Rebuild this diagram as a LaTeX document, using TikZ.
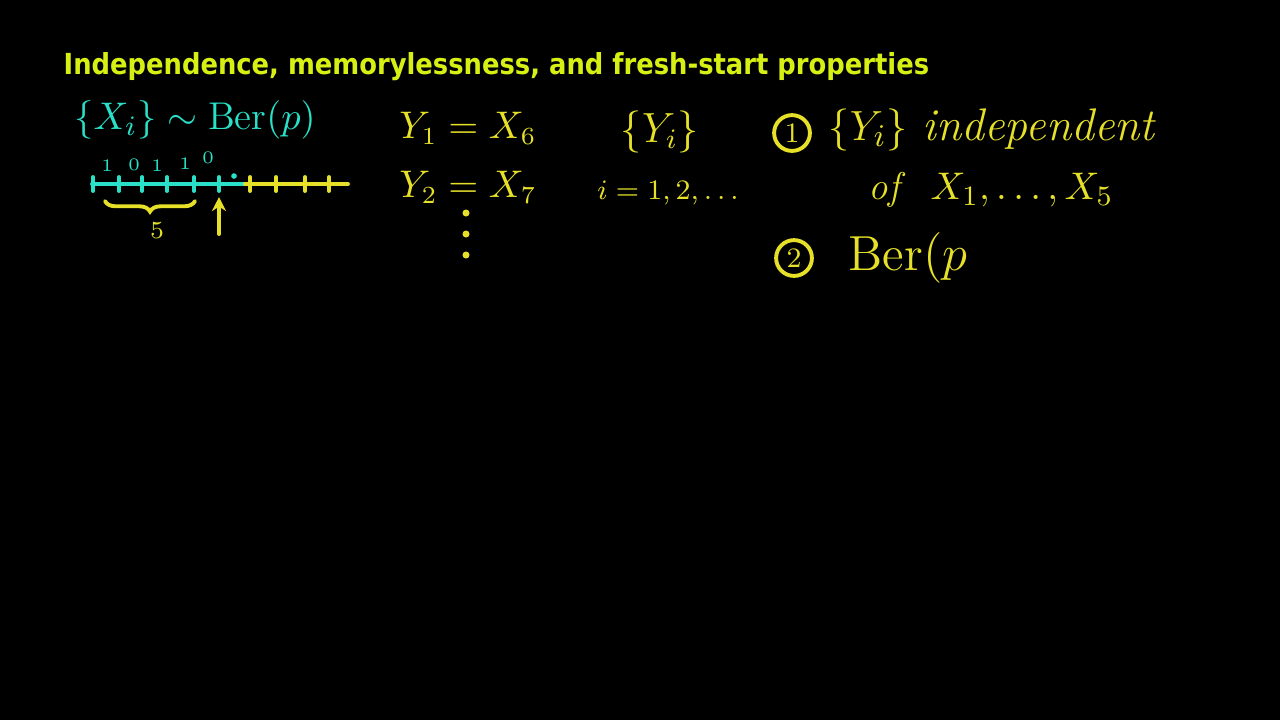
\documentclass[tikz,border=0pt]{standalone}
\usepackage{fontspec}
\setsansfont{DejaVu Sans}
\usetikzlibrary{arrows.meta,decorations.pathreplacing}
\definecolor{ttl}{RGB}{215,240,20}
\definecolor{cy}{RGB}{40,225,200}
\definecolor{ye}{RGB}{230,225,40}
\newcommand{\fsz}[1]{\fontsize{#1}{#1}\selectfont}
\begin{document}
\begin{tikzpicture}[x=0.01cm,y=-0.01cm,
  hw/.style={inner sep=0pt},
  cyt/.style={hw,text=cy},
  yet/.style={hw,text=ye},
  small/.style={font=\fsz{5}, inner sep=0pt, text=cy},
  cyl/.style={draw=cy,line width=1.1pt,line cap=round},
  yel/.style={draw=ye,line width=1.1pt,line cap=round},
  circnum/.style={draw=ye,line width=1.1pt,circle,inner sep=1.2pt,text=ye,font=\fsz{8}}]
\fill[black] (0,0) rectangle (1280,720);
\useasboundingbox (0,0) rectangle (1280,720);
\node[anchor=base west, inner sep=0pt, text=ttl] (title) at (63,74)
  {\resizebox{8.65cm}{0.22cm}{\sffamily\bfseries Independence, memorylessness, and fresh-start properties}};
% left block
\node[cyt, font=\fsz{11}] (xber) at (195,120) {$\{X_i\}\sim\mathrm{Ber}(p)$};
\coordinate (l0) at (92,184);
\coordinate (lm) at (245,184);
\coordinate (l1) at (348,184);
\draw[cyl] (l0) -- (lm);
\draw[yel] (lm) -- (l1);
\foreach \x in {93,119,142,167,194,219} \draw[cyl] (\x,177) -- (\x,191);
\foreach \x in {250,276,305,329} \draw[yel] (\x,177) -- (\x,191);
\fill[cy] (234,176) circle (0.8pt);
\node[small] (d1) at (107,166) {1};
\node[small] (d2) at (134,165) {0};
\node[small] (d3) at (157,166) {1};
\node[small] (d4) at (185,164) {1};
\node[small] (d5) at (208,158) {0};
\coordinate (b0) at (105,201);
\coordinate (b1) at (195,201);
\draw[yel, decorate, decoration={brace,mirror,amplitude=3pt}] (b0) -- (b1);
\node[yet, font=\fsz{7}] (five) at (157,231) {5};
\coordinate (arA) at (219,234);
\coordinate (arB) at (219,197);
\draw[yel, -{Stealth[length=4pt,width=4pt]}] (arA) -- (arB);
% middle block
\node[yet, font=\fsz{10.5}] (y1) at (468,128) {$Y_1 = X_6$};
\node[yet, font=\fsz{10.5}] (y2) at (468,187) {$Y_2 = X_7$};
\foreach \yy in {213,234,255} \fill[ye] (466,\yy) circle (1pt);
\node[yet, font=\fsz{12}] (yi) at (660,132) {$\{Y_i\}$};
\node[yet, font=\fsz{8}] (irange) at (668,193) {$i=1,2,\ldots$};
% right block
\node[circnum] (c1) at (792,133) {1};
\node[yet, anchor=west, font=\fsz{13}] (indep) at (828,130) {$\{Y_i\}$\ \textit{independent}};
\node[yet, anchor=west, font=\fsz{11}] (ofx) at (868,190) {\textit{of}\ \ $X_1,\ldots,X_5$};
\node[circnum] (c2) at (794,258) {2};
\node[yet, anchor=west, font=\fsz{14}] (ber) at (848,258) {$\mathrm{Ber}(p$};
\end{tikzpicture}
\end{document}
